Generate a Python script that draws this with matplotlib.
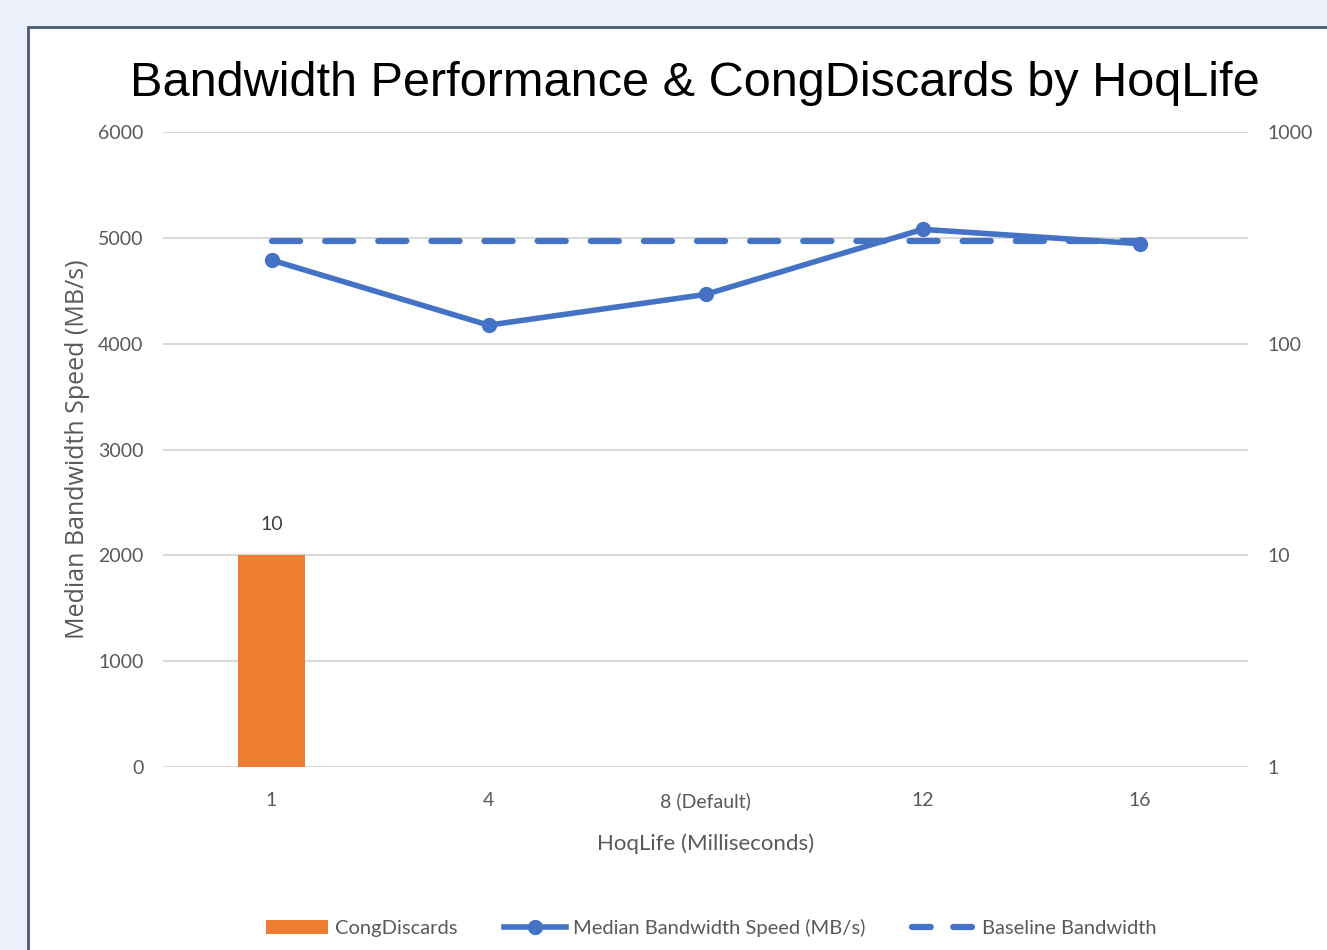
import numpy as np
from matplotlib import pyplot as plt
from matplotlib.patches import Rectangle
from matplotlib.lines import Line2D
from matplotlib.patches import Patch

# Dados do gráfico
categorias = ['1', '4', '8 (Default)', '12', '16']
cong_discards = [10, 0, 0, 0, 0]
mediana_banda = [4790, 4175, 4465, 5080, 4945]
banda_base = [4970, 4970, 4970, 4970, 4970]

azul = '#4472C4'
laranja = '#ED7D31'
cinza = '#595959'
fonte_tick = 'Lato'
tracejado = (0, (4.5, 4))

figura = plt.figure(figsize=(13.27, 9.5), dpi=100)
figura.patch.set_facecolor('#EDF1FB')

# Caixa branca do gráfico (só borda esquerda e superior aparecem)
caixa = Rectangle((28 / 1327, -0.1), 1.2, 1.1 - 27 / 950, transform=figura.transFigure,
                  facecolor='white', edgecolor='#4A5A70', linewidth=2, zorder=-5)
figura.patches.append(caixa)

ax = figura.add_axes([163 / 1327, 1 - 767 / 950, (1248 - 163) / 1327, (767 - 132) / 950])
ax.patch.set_visible(False)
ax2 = ax.twinx()
ax2.patch.set_visible(False)

x = np.arange(len(categorias))

# Barras CongDiscards no eixo direito (log), por cima da grade
ax2.set_yscale('log', nonpositive='clip')
for xi, v in zip(x, cong_discards):
    if v > 0:
        ax2.bar(xi, v, width=0.31, color=laranja, zorder=2)
        ax2.text(xi, v * 1.27, str(v), ha='center', va='bottom', fontsize=14,
                 color='#404040', family=fonte_tick)
ax2.set_ylim(1, 1000)
ax2.set_yticks([1, 10, 100, 1000])
ax2.set_yticklabels(['1', '10', '100', '1000'])
ax2.minorticks_off()

# Linhas de banda
ax.plot(x, banda_base, color=azul, linewidth=4.5, linestyle=tracejado,
        dash_capstyle='round', zorder=3)
ax.plot(x, mediana_banda, color=azul, linewidth=4, marker='o', markersize=10, zorder=4)

ax.set_xlim(-0.5, len(categorias) - 0.5)
ax.set_ylim(0, 6000)
ax.set_yticks(range(0, 6001, 1000))
ax.set_xticks(x)
ax.set_xticklabels(categorias)
ax.grid(axis='y', color='#D9D9D9', linewidth=1.5)
ax.set_axisbelow(True)

for a in (ax, ax2):
    for s in a.spines.values():
        s.set_visible(False)
    a.tick_params(length=0, colors=cinza, labelsize=14)
    for lbl in a.get_xticklabels() + a.get_yticklabels():
        lbl.set_family(fonte_tick)
ax.tick_params(axis='y', pad=14)
ax.tick_params(axis='x', pad=18)
ax2.tick_params(axis='y', pad=14)

ax.set_ylabel('Median Bandwidth Speed (MB/s)', fontsize=18, color=cinza,
              family='Open Sans', labelpad=6)
ax.set_xlabel('HoqLife (Milliseconds)', fontsize=16, color=cinza,
              family=fonte_tick, labelpad=17)

figura.text(695 / 1327, 1 - 83 / 950, 'Bandwidth Performance & CongDiscards by HoqLife',
            ha='center', va='center', fontsize=35, family='Liberation Sans', color='black')

# Legenda
itens = [Patch(facecolor=laranja),
         Line2D([], [], color=azul, linewidth=4, marker='o', markersize=10),
         Line2D([], [], color=azul, linewidth=4.5, linestyle=(0, (3, 3.6)), dash_capstyle='round')]
nomes = ['CongDiscards', 'Median Bandwidth Speed (MB/s)', 'Baseline Bandwidth']
leg = figura.legend(itens, nomes, loc='center', bbox_to_anchor=(711 / 1327, 1 - 928 / 950),
                    ncol=3, frameon=False, handlelength=3.1, columnspacing=2.3,
                    handletextpad=0.35, prop={'family': fonte_tick, 'size': 14.5})
for t in leg.get_texts():
    t.set_color(cinza)

figura.savefig('out.png', dpi=100, facecolor=figura.get_facecolor())
